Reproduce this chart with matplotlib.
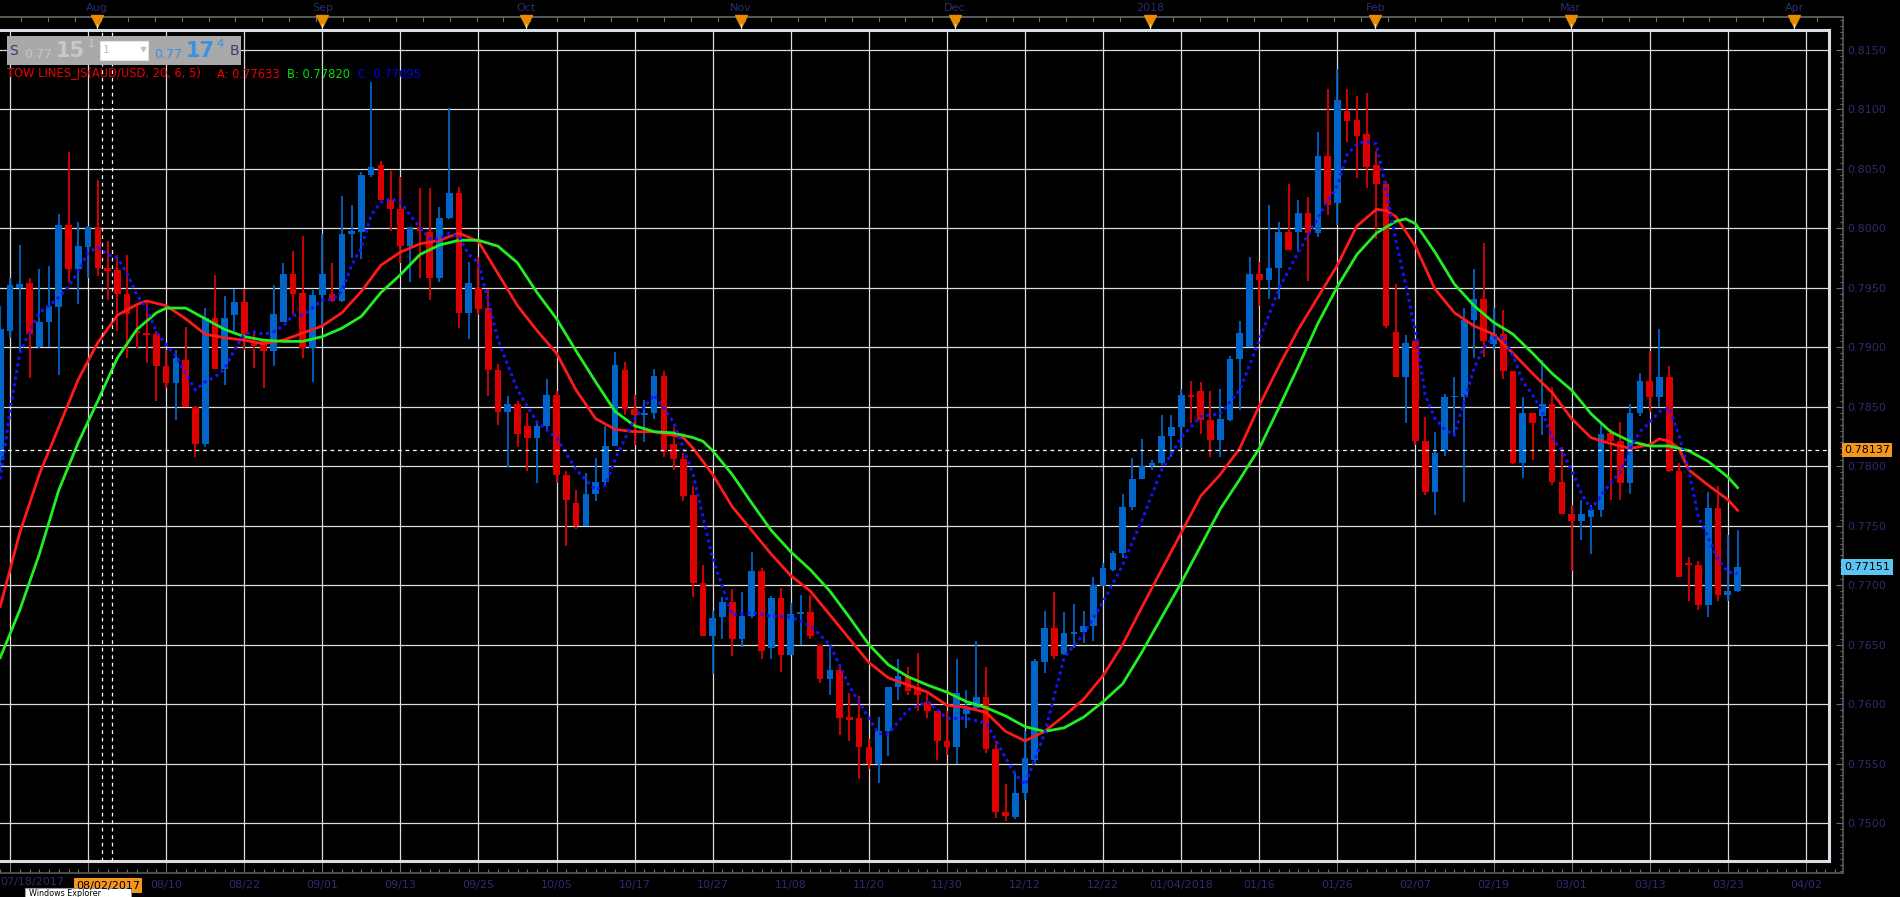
import numpy as np
import matplotlib.pyplot as plt
from matplotlib.patches import Rectangle
from matplotlib.ticker import MultipleLocator, FormatStrFormatter

# AUD/USD daily candles, index 0 = 07/18/2017 (trading days)
idx = list(range(-1, 178))
opens = [0.7805, 0.7914, 0.7950, 0.7954, 0.7900, 0.7921, 0.7934, 0.8003, 0.7966, 0.7984,
         0.8001, 0.7967, 0.7965, 0.7945, 0.7914, 0.7912, 0.7911, 0.7884, 0.7870, 0.7889,
         0.7850, 0.7819, 0.7925, 0.7882, 0.7927, 0.7938, 0.7905, 0.7905, 0.7897, 0.7921,
         0.7962, 0.7946, 0.7899, 0.7944, 0.7945, 0.7939, 0.7995, 0.7997, 0.8045, 0.8053,
         0.8024, 0.8016, 0.7985, 0.8001, 0.7997, 0.7958, 0.8009, 0.8030, 0.7929, 0.7950,
         0.7933, 0.7881, 0.7846, 0.7852, 0.7834, 0.7824, 0.7834, 0.7860, 0.7793, 0.7769,
         0.7750, 0.7777, 0.7787, 0.7817, 0.7881, 0.7848, 0.7843, 0.7845, 0.7876, 0.7819,
         0.7806, 0.7776, 0.7702, 0.7657, 0.7673, 0.7686, 0.7655, 0.7674, 0.7712, 0.7647,
         0.7689, 0.7641, 0.7676, 0.7677, 0.7650, 0.7621, 0.7629, 0.7589, 0.7588, 0.7564,
         0.7550, 0.7577, 0.7614, 0.7624, 0.7614, 0.7602, 0.7594, 0.7569, 0.7564, 0.7592,
         0.7597, 0.7606, 0.7562, 0.7509, 0.7505, 0.7525, 0.7553, 0.7635, 0.7664, 0.7642,
         0.7659, 0.7661, 0.7666, 0.7699, 0.7713, 0.7727, 0.7766, 0.7789, 0.7800, 0.7803,
         0.7825, 0.7833, 0.7860, 0.7863, 0.7839, 0.7822, 0.7839, 0.7890, 0.7900, 0.7962,
         0.7957, 0.7967, 0.7997, 0.7997, 0.8013, 0.7996, 0.8061, 0.8021, 0.8099, 0.8091,
         0.8079, 0.8053, 0.8037, 0.7913, 0.7875, 0.7905, 0.7821, 0.7778, 0.7814, 0.7858,
         0.7858, 0.7923, 0.7941, 0.7903, 0.7911, 0.7880, 0.7803, 0.7845, 0.7842, 0.7852,
         0.7787, 0.7760, 0.7754, 0.7757, 0.7763, 0.7828, 0.7821, 0.7786, 0.7845, 0.7872,
         0.7858, 0.7875, 0.7796, 0.7718, 0.7717, 0.7683, 0.7765, 0.7692, 0.7695]
highs = [0.7935, 0.7958, 0.7986, 0.7958, 0.7966, 0.7968, 0.8012, 0.8064, 0.8005, 0.8002,
         0.8041, 0.7989, 0.7978, 0.7978, 0.7936, 0.7940, 0.7914, 0.7898, 0.7898, 0.7917,
         0.7851, 0.7933, 0.7961, 0.7943, 0.7949, 0.7949, 0.7914, 0.7906, 0.7952, 0.7971,
         0.7981, 0.7994, 0.7948, 0.7995, 0.7971, 0.8027, 0.8020, 0.8047, 0.8123, 0.8057,
         0.8048, 0.8043, 0.8001, 0.8034, 0.8034, 0.8018, 0.8101, 0.8035, 0.7972, 0.7976,
         0.7949, 0.7886, 0.7859, 0.7855, 0.7845, 0.7838, 0.7873, 0.7863, 0.7796, 0.7780,
         0.7794, 0.7807, 0.7834, 0.7896, 0.7888, 0.7860, 0.7856, 0.7882, 0.7880, 0.7833,
         0.7811, 0.7783, 0.7717, 0.7678, 0.7690, 0.7697, 0.7694, 0.7728, 0.7714, 0.7691,
         0.7698, 0.7685, 0.7692, 0.7692, 0.7650, 0.7650, 0.7634, 0.7609, 0.7607, 0.7571,
         0.7589, 0.7614, 0.7638, 0.7631, 0.7643, 0.7609, 0.7594, 0.7594, 0.7638, 0.7612,
         0.7653, 0.7631, 0.7569, 0.7533, 0.7542, 0.7577, 0.7638, 0.7678, 0.7694, 0.7677,
         0.7684, 0.7678, 0.7707, 0.7719, 0.7729, 0.7777, 0.7807, 0.7823, 0.7805, 0.7843,
         0.7843, 0.7865, 0.7872, 0.7871, 0.7863, 0.7865, 0.7893, 0.7922, 0.7976, 0.7972,
         0.8020, 0.8005, 0.8037, 0.8024, 0.8026, 0.8081, 0.8117, 0.8134, 0.8117, 0.8111,
         0.8114, 0.8065, 0.8040, 0.7953, 0.7910, 0.7906, 0.7841, 0.7829, 0.7861, 0.7875,
         0.7933, 0.7966, 0.7988, 0.7933, 0.7931, 0.7880, 0.7858, 0.7845, 0.7889, 0.7867,
         0.7816, 0.7767, 0.7772, 0.7767, 0.7837, 0.7831, 0.7837, 0.7852, 0.7878, 0.7897,
         0.7915, 0.7884, 0.7803, 0.7724, 0.7720, 0.7778, 0.7783, 0.7742, 0.7746]
lows = [0.7795, 0.7908, 0.7896, 0.7874, 0.7899, 0.7900, 0.7877, 0.7955, 0.7936, 0.7958,
        0.7960, 0.7940, 0.7914, 0.7891, 0.7899, 0.7887, 0.7855, 0.7866, 0.7839, 0.7850,
        0.7808, 0.7816, 0.7882, 0.7868, 0.7914, 0.7898, 0.7883, 0.7866, 0.7884, 0.7921,
        0.7927, 0.7891, 0.7871, 0.7918, 0.7938, 0.7938, 0.7975, 0.7974, 0.8043, 0.8024,
        0.7998, 0.7971, 0.7955, 0.7958, 0.7940, 0.7955, 0.8008, 0.7916, 0.7907, 0.7927,
        0.7859, 0.7835, 0.7799, 0.7816, 0.7796, 0.7786, 0.7830, 0.7786, 0.7733, 0.7747,
        0.7750, 0.7771, 0.7783, 0.7817, 0.7843, 0.7818, 0.7820, 0.7840, 0.7808, 0.7797,
        0.7771, 0.7690, 0.7657, 0.7625, 0.7655, 0.7640, 0.7648, 0.7672, 0.7638, 0.7638,
        0.7627, 0.7641, 0.7650, 0.7655, 0.7618, 0.7608, 0.7574, 0.7569, 0.7537, 0.7545,
        0.7534, 0.7556, 0.7603, 0.7608, 0.7594, 0.7588, 0.7553, 0.7557, 0.7550, 0.7580,
        0.7596, 0.7559, 0.7504, 0.7502, 0.7503, 0.7519, 0.7550, 0.7626, 0.7638, 0.7641,
        0.7647, 0.7651, 0.7653, 0.7699, 0.7712, 0.7723, 0.7763, 0.7789, 0.7797, 0.7801,
        0.7808, 0.7815, 0.7836, 0.7827, 0.7808, 0.7808, 0.7838, 0.7847, 0.7900, 0.7935,
        0.7941, 0.7941, 0.7982, 0.7980, 0.7956, 0.7993, 0.8011, 0.8003, 0.8073, 0.8042,
        0.8034, 0.7991, 0.7916, 0.7875, 0.7836, 0.7818, 0.7776, 0.7759, 0.7809, 0.7825,
        0.7770, 0.7891, 0.7892, 0.7898, 0.7873, 0.7802, 0.7790, 0.7805, 0.7826, 0.7784,
        0.7760, 0.7712, 0.7738, 0.7726, 0.7757, 0.7772, 0.7772, 0.7777, 0.7842, 0.7846,
        0.7850, 0.7795, 0.7707, 0.7687, 0.7679, 0.7673, 0.7687, 0.7687, 0.7694]
closes = [0.7915, 0.7952, 0.7953, 0.7911, 0.7921, 0.7935, 0.8003, 0.7966, 0.7985, 0.8001,
          0.7967, 0.7964, 0.7945, 0.7928, 0.7912, 0.7910, 0.7884, 0.7870, 0.7891, 0.7850,
          0.7819, 0.7925, 0.7882, 0.7925, 0.7938, 0.7911, 0.7901, 0.7897, 0.7928, 0.7962,
          0.7945, 0.7899, 0.7944, 0.7962, 0.7939, 0.7995, 0.7998, 0.8045, 0.8052, 0.8024,
          0.8016, 0.7985, 0.8001, 0.7998, 0.7958, 0.8009, 0.8030, 0.7929, 0.7954, 0.7932,
          0.7881, 0.7846, 0.7852, 0.7827, 0.7824, 0.7834, 0.7860, 0.7793, 0.7772, 0.7750,
          0.7777, 0.7787, 0.7817, 0.7885, 0.7848, 0.7843, 0.7845, 0.7876, 0.7812, 0.7806,
          0.7775, 0.7702, 0.7657, 0.7672, 0.7686, 0.7655, 0.7674, 0.7712, 0.7645, 0.7689,
          0.7641, 0.7676, 0.7677, 0.7657, 0.7621, 0.7629, 0.7588, 0.7587, 0.7564, 0.7550,
          0.7577, 0.7614, 0.7624, 0.7611, 0.7608, 0.7594, 0.7569, 0.7564, 0.7609, 0.7596,
          0.7606, 0.7562, 0.7509, 0.7506, 0.7525, 0.7555, 0.7636, 0.7664, 0.7640, 0.7660,
          0.7661, 0.7666, 0.7700, 0.7714, 0.7727, 0.7766, 0.7789, 0.7800, 0.7803, 0.7825,
          0.7833, 0.7860, 0.7858, 0.7839, 0.7822, 0.7840, 0.7890, 0.7912, 0.7962, 0.7957,
          0.7967, 0.7997, 0.7982, 0.8013, 0.7996, 0.8061, 0.8020, 0.8108, 0.8090, 0.8078,
          0.8052, 0.8037, 0.7918, 0.7875, 0.7904, 0.7821, 0.7778, 0.7811, 0.7858, 0.7859,
          0.7923, 0.7941, 0.7905, 0.7911, 0.7880, 0.7803, 0.7845, 0.7836, 0.7852, 0.7787,
          0.7760, 0.7754, 0.7760, 0.7763, 0.7827, 0.7821, 0.7786, 0.7845, 0.7872, 0.7858,
          0.7875, 0.7796, 0.7707, 0.7717, 0.7683, 0.7765, 0.7692, 0.7695, 0.7715]

# indicator lines: (candle index, value)
red_x = [-1, 1, 3, 5, 7, 9, 11, 13, 14, 16, 18, 20, 22, 24, 26, 28, 30, 32, 34, 36, 38, 40,
         42, 44, 46, 48, 50, 52, 54, 56, 58, 60, 62, 64, 66, 68, 69, 70, 72, 74, 76, 78, 80,
         82, 84, 86, 88, 90, 92, 94, 96, 98, 100, 102, 104, 106, 108, 110, 112, 114, 116,
         118, 120, 122, 124, 126, 128, 130, 132, 134, 136, 138, 140, 141, 142, 144, 146,
         148, 150, 152, 154, 156, 158, 160, 162, 164, 166, 168, 169, 170, 171, 172, 174,
         176, 177]
red_y = [0.7682, 0.7744, 0.7793, 0.7833, 0.7873, 0.7904, 0.7927, 0.7936, 0.7939, 0.7935,
         0.7924, 0.7911, 0.7908, 0.7906, 0.7903, 0.7906, 0.7912, 0.7918, 0.7929, 0.7947,
         0.7969, 0.7980, 0.7987, 0.7990, 0.7996, 0.7989, 0.7962, 0.7935, 0.7914, 0.7895,
         0.7864, 0.7840, 0.7831, 0.7829, 0.7829, 0.7826, 0.7824, 0.7815, 0.7793, 0.7766,
         0.7746, 0.7726, 0.7708, 0.7695, 0.7675, 0.7655, 0.7635, 0.7622, 0.7616, 0.7610,
         0.7599, 0.7597, 0.7593, 0.7577, 0.7569, 0.7577, 0.7590, 0.7604, 0.7624, 0.7650,
         0.7682, 0.7713, 0.7744, 0.7775, 0.7793, 0.7815, 0.7851, 0.7884, 0.7915, 0.7942,
         0.7969, 0.8002, 0.8016, 0.8015, 0.8010, 0.7985, 0.7949, 0.7929, 0.7918, 0.7911,
         0.7895, 0.7878, 0.7862, 0.7840, 0.7824, 0.7819, 0.7815, 0.7818, 0.7823, 0.7821,
         0.7815, 0.7797, 0.7784, 0.7772, 0.7763]
green_x = [-1, 1, 3, 5, 7, 9, 11, 13, 15, 16, 18, 20, 22, 24, 26, 28, 30, 32, 34, 36, 38,
           40, 42, 44, 46, 48, 50, 52, 54, 56, 58, 60, 62, 64, 66, 68, 70, 71, 72, 74, 76,
           78, 80, 82, 84, 86, 88, 90, 92, 94, 96, 98, 100, 102, 104, 106, 108, 110, 112,
           114, 116, 118, 120, 122, 124, 126, 128, 130, 132, 134, 136, 138, 140, 142, 143,
           144, 146, 148, 150, 152, 154, 156, 158, 160, 162, 164, 166, 168, 170, 172, 174,
           176, 177]
green_y = [0.7639, 0.7679, 0.7726, 0.7780, 0.7820, 0.7855, 0.7891, 0.7915, 0.7929, 0.7933,
           0.7933, 0.7924, 0.7915, 0.7909, 0.7906, 0.7905, 0.7905, 0.7909, 0.7916, 0.7926,
           0.7946, 0.7961, 0.7978, 0.7986, 0.7990, 0.7990, 0.7985, 0.7971, 0.7946, 0.7924,
           0.7897, 0.7871, 0.7846, 0.7834, 0.7829, 0.7828, 0.7824, 0.7821, 0.7813, 0.7793,
           0.7769, 0.7746, 0.7728, 0.7713, 0.7695, 0.7673, 0.7650, 0.7633, 0.7623, 0.7616,
           0.7610, 0.7602, 0.7597, 0.7590, 0.7581, 0.7577, 0.7580, 0.7589, 0.7602, 0.7617,
           0.7644, 0.7673, 0.7702, 0.7733, 0.7764, 0.7789, 0.7815, 0.7849, 0.7884, 0.7920,
           0.7951, 0.7978, 0.7996, 0.8006, 0.8008, 0.8004, 0.7980, 0.7953, 0.7935, 0.7921,
           0.7911, 0.7895, 0.7878, 0.7864, 0.7844, 0.7829, 0.7821, 0.7817, 0.7817, 0.7813,
           0.7804, 0.7791, 0.7782]
blue_x = [-1, 0, 1, 2, 3, 4, 5, 6, 7, 8, 9, 10, 11, 12, 13, 14, 15, 16, 17, 18, 19, 20, 21,
          22, 23, 24, 25, 26, 27, 28, 29, 30, 31, 32, 33, 34, 35, 36, 37, 38, 39, 40, 41, 42,
          43, 44, 45, 46, 47, 48, 50, 52, 54, 56, 58, 60, 61, 62, 64, 66, 68, 70, 72, 74, 76,
          78, 80, 82, 84, 86, 88, 89, 90, 92, 94, 96, 98, 100, 101, 102, 103, 104, 106, 108,
          110, 112, 114, 116, 118, 120, 122, 124, 126, 128, 130, 132, 134, 136, 137, 138,
          139, 140, 141, 142, 143, 144, 145, 146, 147, 148, 149, 150, 151, 152, 153, 154,
          155, 156, 157, 158, 159, 160, 161, 162, 163, 164, 165, 166, 167, 168, 169, 170,
          171, 172, 173, 174, 175, 176, 177]
blue_y = [0.7789, 0.7846, 0.7895, 0.7913, 0.7929, 0.7935, 0.7942, 0.7951, 0.7964, 0.7980,
          0.7984, 0.7978, 0.7975, 0.7962, 0.7944, 0.7933, 0.7913, 0.7902, 0.7893, 0.7878,
          0.7864, 0.7871, 0.7875, 0.7882, 0.7898, 0.7911, 0.7913, 0.7911, 0.7913, 0.7918,
          0.7927, 0.7927, 0.7933, 0.7940, 0.7940, 0.7947, 0.7969, 0.7984, 0.8011, 0.8022,
          0.8025, 0.8022, 0.8011, 0.8001, 0.7991, 0.7991, 0.7996, 0.7993, 0.7978, 0.7971,
          0.7906, 0.7864, 0.7837, 0.7824, 0.7797, 0.7780, 0.7784, 0.7806, 0.7840, 0.7860,
          0.7837, 0.7793, 0.7722, 0.7675, 0.7677, 0.7674, 0.7673, 0.7666, 0.7650, 0.7615,
          0.7588, 0.7575, 0.7575, 0.7595, 0.7602, 0.7588, 0.7588, 0.7584, 0.7570, 0.7555,
          0.7541, 0.7532, 0.7575, 0.7639, 0.7659, 0.7686, 0.7717, 0.7755, 0.7797, 0.7824,
          0.7842, 0.7844, 0.7864, 0.7906, 0.7949, 0.7980, 0.8009, 0.8036, 0.8062, 0.8071,
          0.8073, 0.8071, 0.8033, 0.7989, 0.7953, 0.7913, 0.7860, 0.7840, 0.7831, 0.7826,
          0.7855, 0.7882, 0.7900, 0.7908, 0.7908, 0.7893, 0.7871, 0.7860, 0.7846, 0.7824,
          0.7813, 0.7797, 0.7777, 0.7764, 0.7775, 0.7786, 0.7795, 0.7815, 0.7829, 0.7837,
          0.7846, 0.7849, 0.7826, 0.7797, 0.7757, 0.7740, 0.7722, 0.7711, 0.7710]

tick_labels = ['07/18/2017', '08/02/2017', '08/10', '08/22', '09/01', '09/13', '09/25',
               '10/05', '10/17', '10/27', '11/08', '11/20', '11/30', '12/12', '12/22',
               '01/04/2018', '01/16', '01/26', '02/07', '02/19', '03/01', '03/13',
               '03/23', '04/02']
months = ['Aug', 'Sep', 'Oct', 'Nov', 'Dec', '2018', 'Feb', 'Mar', 'Apr']
month_pos = [8.9, 32.0, 52.9, 74.9, 96.8, 116.8, 139.9, 159.9, 182.8]
crosshair_price = 0.78137
last_price = 0.77151

W, H = 1900, 897
NAVY = '#2c2c70'


def px_to_i(x):
    return (x - 10) / 9.76


def i_to_px(i):
    return 10 + 9.76 * i


def py_to_price(y):
    return 0.8150 - (y - 50) / 59.46 * 0.005


def frac(x0, y0, x1, y1):
    return [x0 / W, 1 - y1 / H, (x1 - x0) / W, (y1 - y0) / H]


fig = plt.figure(figsize=(19, 8.97), dpi=100, facecolor='black')

# scale axes (outer frame with ticks and labels)
ax2 = fig.add_axes(frac(0, 17, 1843, 873))
ax2.set_facecolor('none')
ax2.set_xlim(px_to_i(0), px_to_i(1843))
ax2.set_ylim(py_to_price(873), py_to_price(17))
for s in ['top', 'right', 'bottom']:
    ax2.spines[s].set_color('#5a5a5a')
    ax2.spines[s].set_linewidth(1.2)
ax2.spines['left'].set_visible(False)
ax2.yaxis.tick_right()
ax2.yaxis.set_major_locator(MultipleLocator(0.005))
ax2.yaxis.set_minor_locator(MultipleLocator(0.0005))
ax2.yaxis.set_major_formatter(FormatStrFormatter('%.4f'))
ax2.tick_params(axis='y', which='major', direction='in', length=5, width=0.8,
                color='#707070', labelcolor=NAVY, labelsize=8, pad=3)
ax2.tick_params(axis='y', which='minor', direction='in', length=2.2, width=0.8,
                color='#707070')
xt = list(range(0, 185, 8))
shown = [''] * 2 + tick_labels[2:]
ax2.set_xticks(xt, shown)
ax2.xaxis.set_minor_locator(MultipleLocator(1))
ax2.tick_params(axis='x', which='major', direction='in', length=8, width=0.8,
                color='#707070', labelcolor=NAVY, labelsize=8, pad=5)
ax2.tick_params(axis='x', which='minor', direction='in', length=3, width=0.8,
                color='#707070')

# main plot area
ax = fig.add_axes(frac(0, 30, 1829, 861))
ax.set_facecolor('black')
ax.set_xlim(px_to_i(0), px_to_i(1829))
ax.set_ylim(py_to_price(861), py_to_price(30))
ax.set_xticks(xt)
ax.yaxis.set_major_locator(MultipleLocator(0.005))
ax.tick_params(length=0, labelbottom=False, labelleft=False)
ax.grid(True, color='#dcdcdc', lw=0.9)
ax.set_axisbelow(True)
ax.spines['left'].set_visible(False)
for s in ['top', 'right', 'bottom']:
    ax.spines[s].set_color('#d8dde6')
    ax.spines[s].set_linewidth(2.2)

o = np.array(opens)
c = np.array(closes)
hi = np.array(highs)
lo = np.array(lows)
x = np.array(idx)
col = np.where(c >= o, '#0064c8', '#dd0000')
body_lo = np.minimum(o, c)
body_h = np.maximum(np.abs(c - o), 0.00013)
ax.vlines(x, lo, hi, colors=col, lw=1.3, zorder=2)
ax.bar(x, body_h, bottom=body_lo, width=0.68, color=col, zorder=2.5)

ax.plot(red_x, red_y, color='#ff1a1a', lw=2.0, zorder=3)
ax.plot(green_x, green_y, color='#22ee22', lw=2.0, zorder=3)
ax.plot(blue_x, blue_y, color='#1414ff', lw=2.2, ls=(0, (1, 1.2)), zorder=3.2)

ax.axhline(crosshair_price, color='white', lw=0.9, ls=(0, (3, 3)), zorder=4)
ax.axvline(px_to_i(102), color='white', lw=0.9, ls=(0, (3, 3)), zorder=4)
ax.axvline(px_to_i(112), color='white', lw=0.9, ls=(0, (3, 3)), zorder=4)

# price tags on the right scale
ytr = ax2.get_yaxis_transform()
ax2.text(1.0006, crosshair_price, '0.78137', transform=ytr, ha='left', va='center',
         fontsize=8, color='black', zorder=6,
         bbox=dict(boxstyle='square,pad=0.15', fc='#f5961e', ec='none'))
ax2.text(1.0006, last_price, '0.77151', transform=ytr, ha='left', va='center',
         fontsize=8, color='black', zorder=6,
         bbox=dict(boxstyle='square,pad=0.25', fc='#5cc4f2', ec='none'))

# overlay in pixel coordinates for the terminal widgets
ov = fig.add_axes([0, 0, 1, 1], zorder=10)
ov.set_xlim(0, W)
ov.set_ylim(H, 0)
ov.axis('off')
ov.patch.set_alpha(0)

# top time axis
ov.plot([0, 1843], [17, 17], color='#5a5a5a', lw=1.2)
for tx in np.arange(21, 1843, 26.8):
    ov.plot([tx, tx], [17, 21], color='#707070', lw=0.8)
for m, mp in zip(months, month_pos):
    mx = i_to_px(mp)
    ov.text(mx, 8, m, ha='center', va='center', fontsize=8, color=NAVY)
    ov.plot([mx], [21], marker='v', markersize=8, color='#e88a00', mec='#e88a00')
    ov.plot([mx, mx], [24, 30], color='#dddddd', lw=0.8)

# bottom date labels that sit off the regular ticks
ov.text(64, 882.5, '07/18/2017', ha='right', va='center', fontsize=8, color=NAVY)
ov.add_patch(Rectangle((74, 878), 68, 15, fc='#f5961e', ec='none'))
ov.text(108, 886, '08/02/2017', ha='center', va='center', fontsize=8, color='black')
ov.add_patch(Rectangle((25, 888), 106, 12, fc='white', ec='#9a9a9a', lw=0.8))
ov.text(29, 893, 'Windows Explorer', ha='left', va='center', fontsize=5.8, color='black')

# quote widget
ov.add_patch(Rectangle((7, 36), 234, 29, fc='#a9a9a9', ec='none'))
ov.text(9, 51, 'S', ha='left', va='center', fontsize=10, color='#3a3a7a')
ov.text(24, 54, '0.77', ha='left', va='center', fontsize=9, color='#c4c4c4')
ov.text(56, 51, '15', ha='left', va='center', fontsize=15, fontweight='bold', color='#c8c8c8')
ov.text(88, 44, '1', ha='left', va='center', fontsize=8, color='#c8c8c8')
ov.add_patch(Rectangle((100, 41), 48, 19, fc='white', ec='#e4e4e4', lw=0.8))
ov.text(103, 50, '1', ha='left', va='center', fontsize=8, color='#c0c0c0')
ov.plot([143], [49], marker='v', markersize=3, color='#c0c0c0')
ov.text(154, 54, '0.77', ha='left', va='center', fontsize=9, color='#3d8fe0')
ov.text(186, 51, '17', ha='left', va='center', fontsize=15, fontweight='bold', color='#3d8fe0')
ov.text(216, 44, '4', ha='left', va='center', fontsize=8, color='#3d8fe0')
ov.text(230, 51, 'B', ha='left', va='center', fontsize=10, color='#3a3a7a')

# indicator legend
ov.text(7, 74, 'TOW LINES_JS(AUD/USD, 20, 6, 5)', ha='left', va='center', fontsize=8.3,
        color='#ee0000')
ov.text(217, 74, 'A: 0.77633', ha='left', va='center', fontsize=8.3, color='#ee0000')
ov.text(287, 74, 'B: 0.77820', ha='left', va='center', fontsize=8.3, color='#00e000')
ov.text(358, 74, 'C: 0.77095', ha='left', va='center', fontsize=8.3, color='#0000e0')

fig.savefig('out.png', dpi=100, facecolor='black')
